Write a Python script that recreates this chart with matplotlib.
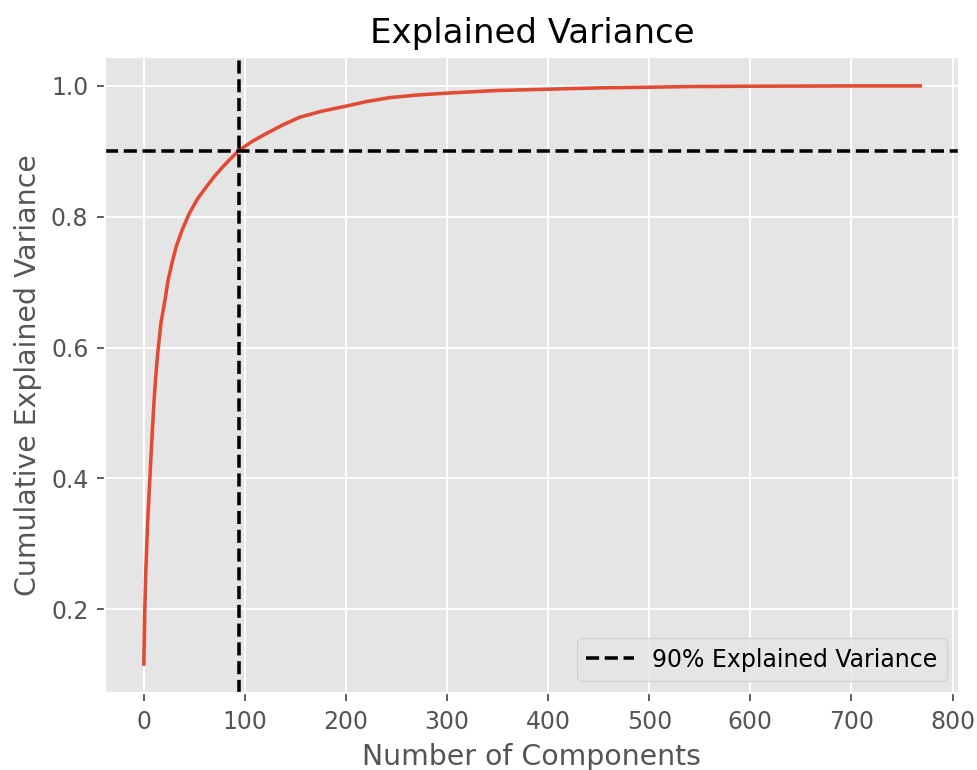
import matplotlib
matplotlib.use("Agg")
import matplotlib.pyplot as plt

# cumulative explained variance
n_components = [0, 1, 2, 3, 4, 5, 6, 8, 10, 12, 14, 17, 21, 24, 28, 32, 38, 45,
                53, 62, 70, 78, 86, 94, 107, 121, 137, 154, 175, 200, 220, 243,
                270, 300, 350, 400, 450, 500, 540, 600, 700, 768]
cum_variance = [0.116, 0.20, 0.26, 0.30, 0.34, 0.37, 0.40, 0.46, 0.515, 0.56,
                0.595, 0.638, 0.673, 0.703, 0.73, 0.754, 0.78, 0.805, 0.827, 0.846,
                0.862, 0.876, 0.889, 0.901, 0.915, 0.927, 0.94, 0.952, 0.961,
                0.969, 0.976, 0.982, 0.986, 0.989, 0.993, 0.995, 0.997, 0.998,
                0.999, 0.9995, 1.0, 1.0]
n_90 = 94
threshold = 0.9

plt.style.use('ggplot')
fig = plt.figure(figsize=(977 / 170, 770 / 170), dpi=170)
ax = fig.add_axes([105 / 977, 1 - 693 / 770, (959 - 105) / 977, (693 - 57) / 770])

ax.plot(n_components, cum_variance)
ax.axhline(threshold, color='k', linestyle='--', label='90% Explained Variance')
ax.axvline(n_90, color='k', linestyle='--')

ax.set_title('Explained Variance')
ax.set_xlabel('Number of Components')
ax.set_ylabel('Cumulative Explained Variance')
ax.legend(loc='lower right')

fig.savefig('out.png', dpi=170)
